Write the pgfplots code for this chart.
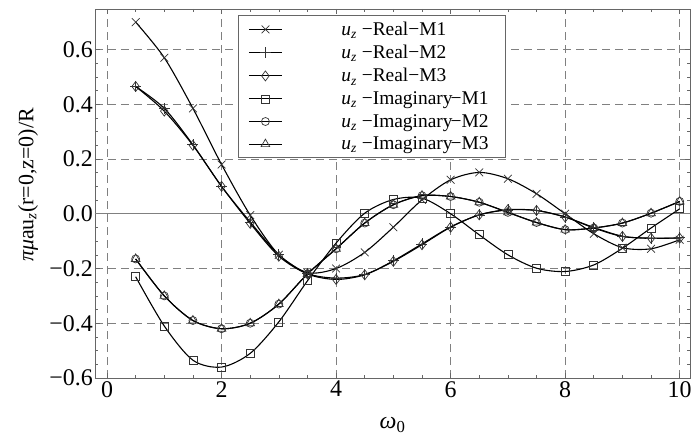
\documentclass[border=0pt]{standalone}
\usepackage{fontspec}
\setmainfont{Liberation Serif}
\usepackage{pgfplots}
\pgfplotsset{compat=1.18}
\newcommand{\legtxt}[1]{\hspace*{57bp}{\itshape u}\textsubscript{\itshape z} −#1\hspace*{5bp}}
\begin{document}
\begin{tikzpicture}
\begin{axis}[
  width=595bp, height=369bp, scale only axis,
  xmin=-0.21, xmax=10.18, ymin=-0.6, ymax=0.748,
  xtick={0,2,4,6,8,10}, xticklabels={0,2,4,6,8,10},
  ytick={-0.6,-0.4,-0.2,0,0.2,0.4,0.6},
  yticklabels={−0.6,−0.4,−0.2,0.0,0.2,0.4,0.6},
  minor x tick num=3, minor y tick num=3,
  tick align=inside, tick pos=both,
  major tick length=5bp, minor tick length=3bp,
  every tick/.style={gray!80!black, line width=0.6bp},
  axis line style={gray!80!black, line width=0.8bp},
  grid=major,
  major grid style={gray, dashed, dash pattern=on 8bp off 5bp, line width=0.8bp},
  xlabel={\itshape ω\textsubscript{\upshape 0}},
  ylabel={{\itshape πμ}au\textsubscript{\itshape z}(r=0,z=0)/R},
  xlabel style={at={(axis description cs:0.5,-0.128)}, anchor=center, font=\fontsize{24}{26}\selectfont},
  ylabel style={at={(axis description cs:-0.1126,0.523)}, anchor=center, font=\fontsize{22}{24}\selectfont},
  tick label style={font=\fontsize{24}{26}\selectfont},
  yticklabel style={inner xsep=2bp},
  xticklabel style={inner ysep=3bp},
  legend style={at={(0.2403,0.9837)}, anchor=north west, draw=gray!80!black, line width=0.8bp,
    font=\fontsize{19.5}{21}\selectfont, cells={anchor=west}, row sep=4.3bp, inner xsep=10bp, inner ysep=4.5bp},
  legend cell align=left,
  legend image code/.code={\draw[mark repeat=2,mark phase=2] plot coordinates {(0bp,0bp) (16.5bp,0bp) (33bp,0bp)};},
]
\draw[gray, line width=0.9bp] (axis cs:-0.21,0) -- (axis cs:10.18,0);
\pgfplotsset{every axis plot/.append style={black, line width=1.1bp, smooth, mark options={solid, draw=gray!40!black, fill=white, line width=0.7bp}}}
% Real-M1
\addplot[mark=x, mark size=5.5bp] coordinates {
(0.5,0.70)(1,0.57)(1.5,0.385)(2,0.18)(2.5,-0.005)(3,-0.15)(3.5,-0.215)(4,-0.20)(4.5,-0.141)(5,-0.049)(5.5,0.051)(6,0.124)(6.5,0.151)(7,0.128)(7.5,0.073)(8,0.0)(8.5,-0.073)(9,-0.124)(9.5,-0.128)(10,-0.095)};
\addlegendentry{\legtxt{Real−M1}}
% Real-M2
\addplot[mark=+, mark size=5.5bp] coordinates {
(0.5,0.465)(1,0.385)(1.5,0.252)(2,0.10)(2.5,-0.03)(3,-0.15)(3.5,-0.218)(4,-0.235)(4.5,-0.222)(5,-0.172)(5.5,-0.11)(6,-0.048)(6.5,-0.004)(7,0.014)(7.5,0.012)(8,-0.012)(8.5,-0.05)(9,-0.082)(9.5,-0.09)(10,-0.088)};
\addlegendentry{\legtxt{Real−M2}}
% Real-M3
\addplot[mark=diamond, mark size=5bp] coordinates {
(0.5,0.465)(1,0.375)(1.5,0.25)(2,0.10)(2.5,-0.035)(3,-0.155)(3.5,-0.22)(4,-0.24)(4.5,-0.223)(5,-0.174)(5.5,-0.113)(6,-0.049)(6.5,-0.004)(7,0.015)(7.5,0.012)(8,-0.012)(8.5,-0.052)(9,-0.083)(9.5,-0.089)(10,-0.089)};
\addlegendentry{\legtxt{Real−M3}}
% Imag-M1
\addplot[mark=square, mark size=4bp] coordinates {
(0.5,-0.23)(1,-0.41)(1.5,-0.535)(2,-0.56)(2.5,-0.51)(3,-0.395)(3.5,-0.245)(4,-0.107)(4.5,0.002)(5,0.052)(5.5,0.057)(6,0.0)(6.5,-0.077)(7,-0.15)(7.5,-0.199)(8,-0.211)(8.5,-0.187)(9,-0.126)(9.5,-0.052)(10,0.018)};
\addlegendentry{\legtxt{Imaginary\kern-2bp−M1}}
% Imag-M2
\addplot[mark=o, mark size=4bp] coordinates {
(0.5,-0.165)(1,-0.30)(1.5,-0.39)(2,-0.42)(2.5,-0.40)(3,-0.33)(3.5,-0.22)(4,-0.128)(4.5,-0.034)(5,0.033)(5.5,0.066)(6,0.063)(6.5,0.042)(7,0.005)(7.5,-0.032)(8,-0.058)(8.5,-0.052)(9,-0.034)(9.5,0.002)(10,0.045)};
\addlegendentry{\legtxt{Imaginary\kern-2bp−M2}}
% Imag-M3
\addplot[mark=triangle, mark size=5bp] coordinates {
(0.5,-0.165)(1,-0.30)(1.5,-0.39)(2,-0.42)(2.5,-0.40)(3,-0.33)(3.5,-0.22)(4,-0.128)(4.5,-0.034)(5,0.033)(5.5,0.066)(6,0.063)(6.5,0.042)(7,0.005)(7.5,-0.032)(8,-0.058)(8.5,-0.052)(9,-0.034)(9.5,0.002)(10,0.045)};
\addlegendentry{\legtxt{Imaginary\kern-2bp−M3}}
\end{axis}
\pgfresetboundingbox
\useasboundingbox (-95bp,-61bp) rectangle (598bp,378bp);
\end{tikzpicture}
\end{document}
